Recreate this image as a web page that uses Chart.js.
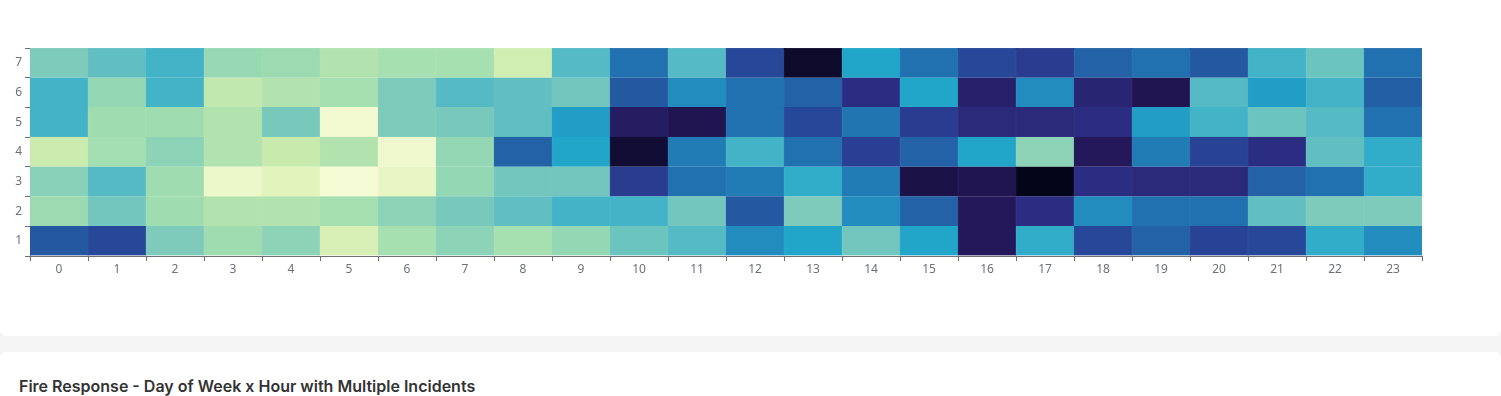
<!DOCTYPE html>
<html>
<head>
<meta charset="utf-8">
<script src="https://cdn.jsdelivr.net/npm/chart.js@4.4.1/dist/chart.umd.min.js"></script>
<style>
    body { margin: 0; background: #f5f5f5; font-family: Inter, "Noto Sans", sans-serif; }
    .card-top { position: absolute; left: 0; top: 0; width: 1501px; height: 336px; background: #fff; border-radius: 0 0 6px 6px; }
    .card-bottom { position: absolute; left: 0; top: 352px; width: 1501px; height: 60px; background: #fff; border-radius: 6px 6px 0 0; }
    .card-bottom h3 { margin: 0; position: absolute; left: 19px; top: 24px; font-size: 16px; line-height: 20px; font-weight: 600; color: #333; }
    #chartWrap { position: relative; width: 1501px; height: 336px; }
</style>
</head>
<body>
<div class="card-top">
    <div id="chartWrap"><canvas id="heatmap"></canvas></div>
</div>
<div class="card-bottom">
    <h3>Fire Response - Day of Week x Hour with Multiple Incidents</h3>
</div>
<script>
// hours on x, days 1..7 on y (1 at bottom)
const hours = ['0','1','2','3','4','5','6','7','8','9','10','11','12','13','14','15','16','17','18','19','20','21','22','23'];
const days = ['1', '2', '3', '4', '5', '6', '7'];

// relative incident level per hour (0 - 100)
const day1 = [74, 79, 40, 31, 36, 14, 29, 36, 29, 34, 43, 47, 62, 56, 42, 56, 93, 53, 79, 71, 81, 79, 53, 62];
const day2 = [32, 42, 31, 26, 26, 29, 36, 41, 45, 50, 50, 42, 74, 40, 62, 71, 93, 88, 62, 67, 67, 45, 40, 40];
const day3 = [37, 47, 31, 5, 10, 1, 7, 34, 42, 42, 83, 67, 65, 53, 65, 95, 94, 100, 88, 89, 89, 71, 67, 53];
const day4 = [19, 30, 36, 26, 20, 26, 4, 34, 71, 56, 97, 65, 50, 67, 82, 71, 56, 36, 93, 65, 81, 88, 45, 53];
const day5 = [50, 31, 31, 26, 41, 2, 40, 41, 45, 58, 92, 94, 67, 79, 66, 83, 89, 89, 88, 58, 50, 43, 47, 67];
const day6 = [50, 34, 50, 22, 26, 29, 40, 47, 45, 42, 74, 62, 67, 71, 88, 56, 91, 62, 90, 94, 47, 58, 50, 72];
const day7 = [40, 45, 50, 33, 32, 26, 29, 29, 17, 47, 67, 47, 79, 98, 56, 67, 79, 83, 71, 67, 74, 50, 43, 67];

const rows = [day1, day2, day3, day4, day5, day6, day7];

// colour ramp, light yellow -> teal -> blue -> near black
const stops = [
    [0, '#f7fcd8'], [0.1, '#e2f4bc'], [0.2, '#c8eaad'], [0.3, '#a3dfb0'],
    [0.4, '#7ecbbb'], [0.5, '#43b3c7'], [0.56, '#21a6ca'], [0.62, '#228cbe'],
    [0.67, '#2170af'], [0.74, '#2458a0'], [0.82, '#283f93'], [0.88, '#2b2d82'],
    [0.93, '#24185a'], [1, '#05051a']
];

function hexToRgb(h) {
    return [parseInt(h.slice(1, 3), 16), parseInt(h.slice(3, 5), 16), parseInt(h.slice(5, 7), 16)];
}

function colorFor(v) {
    const t = Math.max(0, Math.min(1, v / 100));
    for (let i = 1; i < stops.length; i++) {
        if (t <= stops[i][0]) {
            const a = stops[i - 1], b = stops[i];
            const f = (t - a[0]) / (b[0] - a[0]);
            const ca = hexToRgb(a[1]), cb = hexToRgb(b[1]);
            const c = ca.map((x, k) => Math.round(x + (cb[k] - x) * f));
            return 'rgb(' + c.join(',') + ')';
        }
    }
    return stops[stops.length - 1][1];
}

const axisColor = '#6e7079';

const datasets = rows.map((row, r) => ({
    label: days[r],
    data: hours.map(() => 1),
    backgroundColor: row.map(colorFor),
    borderColor: row.map(colorFor),
    borderWidth: 0.5,
    barPercentage: 1,
    categoryPercentage: 1
}));

const ctx = document.getElementById('heatmap').getContext('2d');
new Chart(ctx, {
    type: 'bar',
    data: { labels: hours, datasets: datasets },
    options: {
        responsive: true,
        maintainAspectRatio: false,
        animation: false,
        layout: { padding: { top: 48, right: 79, left: 0, bottom: 0 } },
        plugins: {
            legend: { display: false },
            tooltip: { enabled: false }
        },
        scales: {
            x: {
                stacked: true,
                offset: true,
                grid: { offset: true, drawOnChartArea: false, drawTicks: true, tickLength: 5, color: axisColor },
                border: { display: true, color: axisColor },
                ticks: { color: axisColor, padding: 1, font: { family: '"Noto Sans", sans-serif', size: 12 }, maxRotation: 0 },
                afterFit: function (scale) { scale.height = 80; }
            },
            y: {
                stacked: true,
                min: 0,
                max: 7,
                grid: { drawOnChartArea: false, drawTicks: true, tickLength: 5, color: axisColor },
                border: { display: true, color: axisColor },
                ticks: {
                    stepSize: 1,
                    color: axisColor,
                    padding: 3,
                    labelOffset: -15,
                    font: { family: '"Noto Sans", sans-serif', size: 12 },
                    callback: function (value) { return value < 7 ? days[value] : ''; }
                },
                afterFit: function (scale) { scale.width = 30; }
            }
        }
    }
});
</script>
</body>
</html>
